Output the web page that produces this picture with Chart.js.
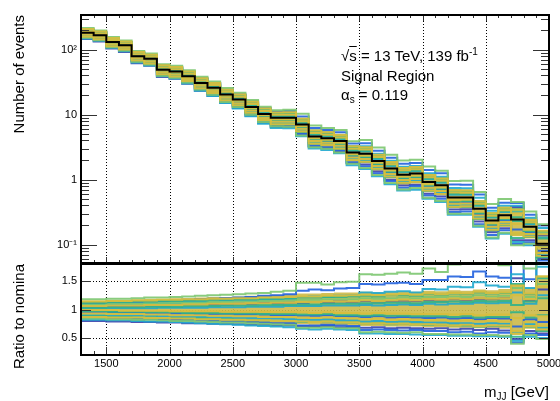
<!DOCTYPE html>
<html>
<head>
<meta charset="utf-8">
<script src="https://cdn.jsdelivr.net/npm/chart.js@4"></script>
<style>
body { margin: 0; background: #fff; }
#wrap { position: relative; width: 560px; height: 401px; overflow: hidden; font-family: 'Liberation Sans', Arial, sans-serif; color: #000; }
canvas { position: absolute; left: 0; top: 0; }
.txt { position: absolute; font-size: 15px; line-height: 15px; white-space: nowrap; }
.sup { font-size: 10px; position: relative; top: -6px; }
.sub { font-size: 10px; position: relative; top: 3px; }
</style>
</head>
<body>
<div id="wrap">
  <canvas id="mainChart" width="560" height="401"></canvas>
  <canvas id="ratioChart" width="560" height="401"></canvas>
  <div class="txt" style="left:341px;top:48px">√<span style="text-decoration:overline">s</span> = 13 TeV, 139 fb<span class="sup">-1</span></div>
  <div class="txt" style="left:341px;top:68px">Signal Region</div>
  <div class="txt" style="left:341px;top:87px">α<span class="sub">s</span> = 0.119</div>
  <div class="txt" style="right:11px;top:384px">m<span class="sub">JJ</span> [GeV]</div>
</div>
<script>
// bins (GeV)
const binEdges = [1300, 1400, 1500, 1600, 1700, 1800, 1900, 2000, 2100, 2200,
                  2300, 2400, 2500, 2600, 2700, 2800, 2900, 3000, 3100, 3200,
                  3300, 3400, 3500, 3600, 3700, 3800, 3900, 4000, 4100, 4200,
                  4300, 4400, 4500, 4600, 4700, 4800, 4900, 5000];
const xLabels = [1500, 2000, 2500, 3000, 3500, 4000, 4500, 5000];
const yLogLabels = [0.1, 1, 10, 100];
const logText = {0.1: '10⁻¹', 1: '1', 10: '10', 100: '10²'};
const ratioLabels = [0.5, 1, 1.5];

// nominal number of events per bin
const nominal = [181, 166, 131, 116, 79, 72, 49, 46, 39, 30.7,
                 25.8, 20.3, 17.0, 13.1, 10.2, 8.9, 8.9, 7.0, 4.6, 4.3,
                 3.9, 2.6, 2.5, 1.93, 1.48, 1.19, 1.24, 0.92, 0.82, 0.53,
                 0.53, 0.354, 0.234, 0.282, 0.243, 0.187, 0.103];

// dense core of the variations (ratio to nominal)
const bandHi = [1.16, 1.16, 1.17, 1.17, 1.18, 1.19, 1.19, 1.20, 1.20, 1.21,
                1.22, 1.22, 1.23, 1.24, 1.25, 1.26, 1.27, 1.28, 1.28, 1.29,
                1.30, 1.30, 1.31, 1.30, 1.31, 1.32, 1.31, 1.33, 1.32, 1.34,
                1.33, 1.35, 1.34, 1.36, 1.45, 1.38, 1.60];
const bandLo = [0.84, 0.84, 0.83, 0.83, 0.82, 0.82, 0.81, 0.80, 0.80, 0.79,
                0.78, 0.78, 0.77, 0.76, 0.76, 0.75, 0.74, 0.74, 0.73, 0.73,
                0.72, 0.72, 0.71, 0.71, 0.70, 0.70, 0.70, 0.69, 0.69, 0.68,
                0.68, 0.67, 0.68, 0.66, 0.55, 0.66, 0.60];

// individual variations, ratio to nominal
const yellowVars = [
  [1.14,1.14,1.15,1.15,1.16,1.16,1.17,1.17,1.18,1.18, 1.19,1.19,1.20,1.20,1.21,1.21,1.22,1.23,1.23,1.24, 1.24,1.25,1.26,1.25,1.26,1.27,1.26,1.28,1.27,1.29, 1.28,1.31,1.29,1.30,1.42,1.28,1.58],
  [0.93,0.93,0.92,0.92,0.92,0.91,0.91,0.90,0.90,0.90, 0.89,0.89,0.88,0.88,0.87,0.87,0.87,0.86,0.85,0.86, 0.85,0.84,0.83,0.84,0.82,0.83,0.82,0.81,0.81,0.80, 0.81,0.79,0.80,0.79,0.62,0.78,0.72],
  [1.06,1.06,1.07,1.07,1.07,1.08,1.08,1.08,1.09,1.09, 1.10,1.10,1.10,1.11,1.11,1.12,1.12,1.13,1.13,1.14, 1.14,1.14,1.16,1.15,1.16,1.17,1.16,1.18,1.17,1.19, 1.18,1.20,1.19,1.20,1.25,1.18,1.40],
  [0.99,0.99,0.99,0.98,0.98,0.98,0.98,0.97,0.97,0.97, 0.97,0.96,0.96,0.96,0.96,0.95,0.95,0.95,0.94,0.95, 0.94,0.94,0.93,0.94,0.93,0.93,0.92,0.92,0.92,0.91, 0.92,0.90,0.91,0.91,0.85,0.90,0.88],
  [0.87,0.87,0.86,0.86,0.86,0.85,0.85,0.84,0.84,0.83, 0.83,0.82,0.82,0.81,0.81,0.80,0.80,0.79,0.78,0.79, 0.77,0.77,0.75,0.76,0.75,0.75,0.74,0.74,0.73,0.72, 0.73,0.71,0.72,0.72,0.58,0.71,0.65]
];
const tealVars = [
  [0.97,0.97,0.96,0.96,0.96,0.95,0.95,0.95,0.94,0.94, 0.94,0.93,0.93,0.93,0.92,0.92,0.92,0.91,0.91,0.92, 0.90,0.90,0.89,0.90,0.89,0.89,0.88,0.88,0.88,0.87, 0.88,0.86,0.87,0.87,0.95,0.86,0.90],
  [1.12,1.12,1.13,1.13,1.14,1.14,1.15,1.15,1.16,1.16, 1.17,1.17,1.18,1.18,1.19,1.19,1.20,1.21,1.21,1.22, 1.22,1.23,1.24,1.23,1.25,1.25,1.24,1.27,1.26,1.28, 1.27,1.30,1.28,1.29,1.45,1.27,1.55],
  [0.88,0.88,0.87,0.87,0.86,0.86,0.85,0.85,0.84,0.84, 0.83,0.83,0.82,0.81,0.81,0.80,0.80,0.78,0.78,0.79, 0.77,0.77,0.75,0.76,0.74,0.75,0.74,0.73,0.73,0.72, 0.72,0.70,0.71,0.71,0.52,0.70,0.62],
  [1.03,1.03,1.04,1.04,1.04,1.05,1.05,1.05,1.06,1.06, 1.06,1.07,1.07,1.07,1.08,1.08,1.08,1.09,1.09,1.10, 1.10,1.10,1.11,1.11,1.12,1.12,1.11,1.13,1.13,1.14, 1.13,1.15,1.14,1.15,1.08,1.14,1.20]
];
const greenVars = [
  [1.18,1.18,1.19,1.19,1.20,1.21,1.21,1.22,1.23,1.24, 1.25,1.26,1.27,1.28,1.29,1.31,1.33,1.47,1.47,1.44, 1.48,1.49,1.62,1.61,1.63,1.65,1.63,1.72,1.66,1.79, 1.81,1.82,1.80,1.78,1.85,1.72,2.00],
  [0.84,0.84,0.83,0.83,0.82,0.82,0.81,0.80,0.80,0.79, 0.78,0.77,0.77,0.76,0.75,0.74,0.73,0.68,0.68,0.69, 0.67,0.67,0.60,0.61,0.60,0.59,0.60,0.57,0.57,0.56, 0.56,0.55,0.55,0.54,0.40,0.55,0.48],
  [1.09,1.09,1.10,1.10,1.10,1.11,1.11,1.12,1.12,1.12, 1.13,1.13,1.14,1.14,1.15,1.15,1.16,1.17,1.17,1.18, 1.18,1.18,1.20,1.19,1.20,1.21,1.20,1.22,1.22,1.23, 1.22,1.25,1.23,1.24,1.38,1.22,1.45]
];
const cyanVars = [
  [0.82,0.82,0.81,0.81,0.80,0.79,0.79,0.78,0.77,0.76, 0.75,0.74,0.73,0.72,0.71,0.70,0.69,0.66,0.65,0.66, 0.65,0.64,0.58,0.58,0.57,0.57,0.56,0.55,0.55,0.54, 0.54,0.53,0.53,0.52,0.45,0.52,0.50],
  [1.08,1.08,1.09,1.09,1.10,1.11,1.11,1.12,1.13,1.13, 1.14,1.15,1.16,1.16,1.17,1.18,1.19,1.22,1.23,1.22, 1.24,1.25,1.30,1.29,1.31,1.32,1.30,1.36,1.35,1.40, 1.39,1.48,1.42,1.40,1.62,1.38,1.75],
  [0.90,0.90,0.90,0.89,0.89,0.89,0.88,0.88,0.87,0.87, 0.86,0.86,0.85,0.85,0.84,0.84,0.83,0.82,0.82,0.83, 0.81,0.81,0.79,0.80,0.78,0.79,0.78,0.77,0.77,0.76, 0.76,0.75,0.76,0.75,0.60,0.74,0.68],
  [1.01,1.01,1.02,1.02,1.02,1.02,1.03,1.03,1.03,1.03, 1.04,1.04,1.04,1.05,1.05,1.05,1.06,1.06,1.06,1.07, 1.07,1.07,1.08,1.07,1.08,1.09,1.08,1.10,1.09,1.10, 1.10,1.12,1.11,1.12,1.30,1.10,1.25]
];
const blueVars = [
  [1.10,1.11,1.11,1.12,1.13,1.14,1.15,1.16,1.17,1.18, 1.19,1.20,1.21,1.22,1.24,1.25,1.27,1.33,1.35,1.34, 1.37,1.38,1.45,1.44,1.46,1.47,1.45,1.52,1.52,1.58, 1.57,1.67,1.58,1.56,1.80,1.53,1.90],
  [0.86,0.86,0.85,0.85,0.84,0.83,0.83,0.82,0.81,0.81, 0.80,0.79,0.79,0.78,0.77,0.76,0.76,0.72,0.72,0.73, 0.72,0.71,0.64,0.65,0.64,0.63,0.64,0.62,0.62,0.60, 0.61,0.58,0.60,0.59,0.42,0.58,0.55],
  [0.95,0.95,0.95,0.94,0.94,0.94,0.93,0.93,0.93,0.92, 0.92,0.92,0.91,0.91,0.91,0.90,0.90,0.89,0.89,0.90, 0.88,0.88,0.87,0.88,0.86,0.87,0.86,0.85,0.86,0.84, 0.85,0.83,0.85,0.84,0.70,0.83,0.78]
];
const darkBlueVars = [
  [0.80,0.80,0.79,0.79,0.78,0.78,0.77,0.77,0.76,0.76, 0.75,0.75,0.74,0.73,0.73,0.72,0.72,0.71,0.70,0.71, 0.69,0.69,0.68,0.69,0.67,0.68,0.67,0.66,0.67,0.65, 0.66,0.64,0.66,0.63,0.48,0.62,0.58],
  [1.05,1.05,1.06,1.06,1.06,1.07,1.07,1.08,1.08,1.08, 1.09,1.09,1.10,1.10,1.11,1.11,1.12,1.12,1.13,1.12, 1.14,1.13,1.15,1.14,1.15,1.16,1.15,1.17,1.16,1.18, 1.17,1.19,1.18,1.20,1.55,1.16,1.35]
];

const xMin = 1300, xMax = 5000, xTickStep = 100;
const yMin = 0.052, yMax = 340;
const bandColor = 'rgba(204,185,72,0.9)';
const groups = [
  {vars: yellowVars, color: 'rgba(214,190,62,0.95)', order: 1},
  {vars: tealVars, color: 'rgba(50,178,138,0.9)', order: 2},
  {vars: greenVars, color: 'rgba(124,198,112,0.9)', order: 3},
  {vars: cyanVars, color: 'rgba(32,168,206,0.9)', order: 4},
  {vars: blueVars, color: 'rgba(34,98,222,0.9)', order: 5},
  {vars: darkBlueVars, color: 'rgba(58,66,172,0.9)', order: 6}
];

Chart.defaults.font.family = "'Liberation Sans', Arial, sans-serif";
Chart.defaults.color = '#000';

// histogram as a step line through bin edges
function steps(vals) {
  const pts = vals.map((v, i) => ({x: binEdges[i], y: v}));
  pts.push({x: binEdges[vals.length], y: vals[vals.length - 1]});
  return pts;
}
function lineSet(vals, color, width, order) {
  return {data: steps(vals), borderColor: color, backgroundColor: color, borderWidth: width,
          stepped: true, pointRadius: 0, fill: false, order: order};
}
const scaled = r => r.map((v, i) => v * nominal[i]);

const mainSets = [lineSet(nominal, '#000', 2, 0)];
const ratioSets = [];
groups.forEach(g => g.vars.forEach(r => {
  mainSets.push(lineSet(scaled(r), g.color, 2, g.order));
  ratioSets.push(lineSet(r, g.color, 2, g.order));
}));
mainSets.push(lineSet(scaled(bandLo), 'rgba(0,0,0,0)', 1, 10));
mainSets.push(Object.assign(lineSet(scaled(bandHi), 'rgba(0,0,0,0)', 1, 10), {fill: '-1', backgroundColor: bandColor}));
ratioSets.push(lineSet(bandLo, 'rgba(0,0,0,0)', 1, 10));
ratioSets.push(Object.assign(lineSet(bandHi, 'rgba(0,0,0,0)', 1, 10), {fill: '-1', backgroundColor: bandColor}));

// tick marks of the log axis
const logTicks = [];
[0.01, 0.1, 1, 10, 100].forEach(d => {
  for (let m = 1; m <= 9; m++) {
    const v = m * d;
    if (v >= yMin && v <= yMax) logTicks.push([v, m === 1 ? 16 : 8]);
  }
});

// ROOT style frame: dotted grid, inner ticks, thick box
function makeFrame(cfg) {
  return {
    id: 'rootFrame',
    beforeDatasetsDraw(chart) {
      const {ctx, chartArea: a, scales: {x, y}} = chart;
      ctx.save();
      ctx.strokeStyle = '#000';
      ctx.lineWidth = 1;
      ctx.setLineDash([1, 2]);
      ctx.beginPath();
      xLabels.forEach(v => {
        if (v <= xMin || v >= xMax) return;
        const px = Math.round(x.getPixelForValue(v)) + 0.5;
        ctx.moveTo(px, a.top); ctx.lineTo(px, a.bottom);
      });
      cfg.hGrid.forEach(v => {
        const py = Math.round(y.getPixelForValue(v)) + 0.5;
        ctx.moveTo(a.left, py); ctx.lineTo(a.right, py);
      });
      ctx.stroke();
      ctx.restore();
    },
    afterDraw(chart) {
      const {ctx, chartArea: a, scales: {x, y}} = chart;
      ctx.save();
      ctx.strokeStyle = '#333';
      ctx.lineWidth = 1;
      ctx.beginPath();
      for (let v = xMin + xTickStep; v < xMax; v += xTickStep) {
        const len = v % 500 === 0 ? cfg.xMaj : cfg.xMin;
        const px = Math.round(x.getPixelForValue(v)) + 0.5;
        ctx.moveTo(px, a.bottom); ctx.lineTo(px, a.bottom - len);
        if (cfg.xTop) { ctx.moveTo(px, a.top); ctx.lineTo(px, a.top + len); }
      }
      cfg.yTicks.forEach(([v, len]) => {
        const py = Math.round(y.getPixelForValue(v)) + 0.5;
        ctx.moveTo(a.left, py); ctx.lineTo(a.left + len, py);
        ctx.moveTo(a.right, py); ctx.lineTo(a.right - len, py);
      });
      ctx.stroke();
      ctx.strokeStyle = '#000';
      ctx.lineWidth = 2;
      ctx.strokeRect(a.left, a.top, a.right - a.left, a.bottom - a.top);
      ctx.restore();
    }
  };
}

const common = {
  responsive: false,
  animation: false,
  events: [],
  plugins: {legend: {display: false}, tooltip: {enabled: false}}
};

new Chart(document.getElementById('mainChart'), {
  type: 'line',
  data: {datasets: mainSets},
  options: Object.assign({}, common, {
    layout: {padding: {top: 15, right: 11, bottom: 138, left: 0}},
    scales: {
      x: {type: 'linear', min: xMin, max: xMax, display: false},
      y: {
        type: 'logarithmic', min: yMin, max: yMax,
        grid: {display: false, drawTicks: false}, border: {display: false},
        afterBuildTicks: s => { s.ticks = yLogLabels.map(v => ({value: v})); },
        afterFit: s => { s.width = 81; },
        ticks: {padding: 4, font: {size: 11}, callback: v => logText[v]},
        title: {display: true, text: 'Number of events', align: 'end', font: {size: 15}, padding: {top: 11, bottom: 0}}
      }
    }
  }),
  plugins: [makeFrame({xTop: true, xMaj: 6, xMin: 3, yTicks: logTicks, hGrid: []})]
});

new Chart(document.getElementById('ratioChart'), {
  type: 'line',
  data: {datasets: ratioSets},
  options: Object.assign({}, common, {
    layout: {padding: {top: 264, right: 11, bottom: 0, left: 0}},
    scales: {
      x: {
        type: 'linear', min: xMin, max: xMax,
        grid: {display: false, drawTicks: false}, border: {display: false},
        afterBuildTicks: s => { s.ticks = xLabels.map(v => ({value: v})); },
        afterFit: s => { s.height = 46; s.paddingLeft = 0; s.paddingRight = 0; },
        ticks: {padding: 2, maxRotation: 0, autoSkip: false, font: {size: 11}, callback: v => String(v)}
      },
      y: {
        min: 0.2, max: 1.8,
        grid: {display: false, drawTicks: false}, border: {display: false},
        afterBuildTicks: s => { s.ticks = ratioLabels.map(v => ({value: v})); },
        afterFit: s => { s.width = 81; },
        ticks: {padding: 4, font: {size: 11}, callback: v => String(v)},
        title: {display: true, text: 'Ratio to nomina', align: 'end', font: {size: 15}, padding: {top: 11, bottom: 0}}
      }
    }
  }),
  plugins: [makeFrame({xTop: false, xMaj: 8, xMin: 4, yTicks: ratioLabels.map(v => [v, 10]), hGrid: [0.5, 1, 1.5]})]
});
</script>
</body>
</html>
